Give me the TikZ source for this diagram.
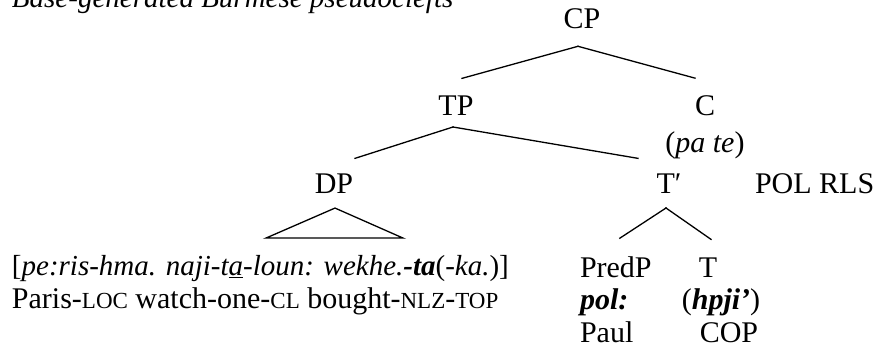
\documentclass[tikz,border=0pt]{standalone}
\usepackage{fontspec}
\setmainfont{Liberation Serif}
\usepackage{tikz}

\begin{document}
\begin{tikzpicture}[x=1pt,y=-1pt,line cap=rect]
	\def\treefont{\fontsize{30pt}{36pt}\selectfont}
	\def\examplefont{\fontsize{29pt}{35pt}\selectfont}
	\def\glsc#1{{\fontsize{23pt}{28pt}\selectfont #1}} % small capitals of the gloss line
	\tikzset{lbl/.style={inner sep=0pt, outer sep=0pt, anchor=base, font=\treefont},
		lblw/.style={lbl, anchor=base west},
		exw/.style={lblw, font=\examplefont},
		branch/.style={line width=1.3pt}}
	\useasboundingbox (0,0) rectangle (884,351);
	\node[exw] (title) at (12,7) {\itshape Base-generated Burmese pseudoclefts};
	\node[lbl] (cp) at (582,28) {CP};
	\node[lbl] (tp) at (456,115) {TP};
	\node[lbl] (c) at (705,115) {C};
	\node[lbl] (cword) at (705,152) {(\textit{pa te})};
	\node[lblw] (cgloss) at (755,193) {POL RLS};
	\node[lbl] (dp) at (334,193) {DP};
	\node[lbl] (tbar) at (669,193) {T′};
	\node[exw] (dpword) at (12,275) {[\textit{pe:ris-hma. naji-t\underline{a}-loun: wekhe.}\textbf{\textit{-ta}}(\textit{-ka.})]};
	\node[lblw] (dpgloss) at (12,308) {Paris-\glsc{LOC} watch-one-\glsc{CL} bought-\glsc{NLZ}-\glsc{TOP}};
	\node[lblw] (predp) at (580,277) {PredP};
	\node[lbl] (t) at (708,277) {T};
	\node[lblw] (predword) at (580,309) {\textbf{\textit{pol:}}};
	\node[lbl] (tword) at (721,309) {(\textbf{\textit{hpji’}})};
	\node[lblw] (predgloss) at (580,342) {Paul};
	\node[lbl] (tgloss) at (729,342) {COP};
	\draw[branch] ([xshift=-4pt,yshift=-18pt]cp.south) -- ([xshift=6pt,yshift=17pt]tp.north);
	\draw[branch] ([xshift=-4pt,yshift=-18pt]cp.south) -- ([xshift=-10pt,yshift=17pt]c.north);
	\draw[branch] ([xshift=-3pt,yshift=-12pt]tp.south) -- ([xshift=21pt,yshift=15pt]dp.north);
	\draw[branch] ([xshift=-3pt,yshift=-12pt]tp.south) -- ([xshift=-31pt,yshift=15pt]tbar.north);
	\draw[branch] ([xshift=1pt,yshift=-15pt]dp.south) -- ([xshift=-68pt,yshift=-45pt]dp.south) -- ([xshift=69pt,yshift=-45pt]dp.south) -- cycle;
	\draw[branch] ([xshift=-3pt,yshift=-15pt]tbar.south) -- ([xshift=4pt,yshift=18pt]predp.north);
	\draw[branch] ([xshift=-3pt,yshift=-15pt]tbar.south) -- ([xshift=3pt,yshift=18pt]t.north);
\end{tikzpicture}
\end{document}
